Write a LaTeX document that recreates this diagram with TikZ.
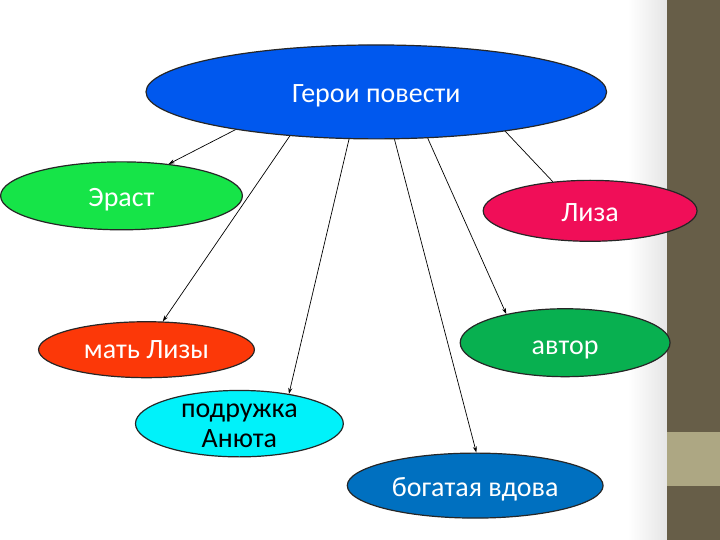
\documentclass[tikz,border=0pt]{standalone}
\usepackage{fontspec}
\setmainfont{Carlito}
\usetikzlibrary{shapes.geometric,arrows.meta}
\definecolor{mainblue}{RGB}{0,88,238}
\definecolor{erastgreen}{RGB}{22,228,72}
\definecolor{lizared}{RGB}{240,14,88}
\definecolor{motherred}{RGB}{252,56,8}
\definecolor{friendcyan}{RGB}{0,242,250}
\definecolor{authorgreen}{RGB}{8,176,80}
\definecolor{widowblue}{RGB}{0,112,192}
\definecolor{barbrown}{RGB}{103,94,72}
\definecolor{barlight}{RGB}{173,167,131}
\tikzset{
	hero/.style={ellipse,draw=black!85,line width=1.2pt,inner sep=0pt,
		text=white,font=\fontsize{28}{28}\selectfont,align=center,
		text height=24pt,text depth=3pt},
	link/.style={line width=0.7pt,-{Stealth[length=6pt,width=4pt]}}
}
\newcommand{\drawlink}[3]{
	\draw[link] (main.#1) -- (#2.#3);
}

\begin{document}
\begin{tikzpicture}[x=1pt,y=-1pt]
	% background and side bar
	\fill[white] (0,0) rectangle (720,540);
	\shade[left color=white,right color=black!10] (628,0) rectangle (667,540);
	\fill[barbrown] (667,0) rectangle (720,540);
	\fill[barlight] (667,432) rectangle (720,486);
	
	\node[hero,fill=mainblue,minimum width=461pt,minimum height=94pt] (main) at (376,92) {Герои повести};
	\node[hero,fill=erastgreen,minimum width=242pt,minimum height=68pt] (erast) at (121,196) {Эраст};
	\node[hero,fill=lizared,minimum width=214pt,minimum height=61pt] (liza) at (590,211) {Лиза};
	\node[hero,fill=motherred,text height=20pt,minimum width=216pt,minimum height=56pt] (mother) at (146,350) {мать Лизы};
	\node[hero,fill=authorgreen,text height=27pt,minimum width=210pt,minimum height=68pt] (author) at (565,343) {автор};
	\node[hero,fill=friendcyan,text=black,text height=47pt,text depth=-3pt,minimum width=208pt,minimum height=62pt] (friend) at (239,424) {подружка\\[2pt]Анюта};
	\node[hero,fill=widowblue,minimum width=256pt,minimum height=65pt] (widow) at (475,486) {богатая вдова};
	
	\drawlink{195}{erast}{34}
	\drawlink{207}{mother}{60}
	\drawlink{240}{friend}{31}
	\drawlink{291}{widow}{88}
	\drawlink{318}{author}{154}
	\draw[line width=0.7pt] (main.343) -- (liza.142);
\end{tikzpicture}
\end{document}
